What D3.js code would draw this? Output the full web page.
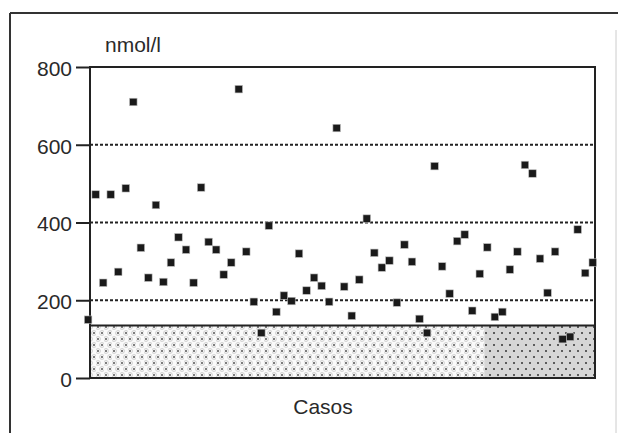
<!DOCTYPE html>
<html>
<head>
<meta charset="utf-8">
<script src="https://cdn.jsdelivr.net/npm/d3@7"></script>
<style>
  body { margin: 0; background: #fff; }
  svg text { font-family: "Liberation Sans", Arial, sans-serif; fill: #2a2a2a; }
</style>
</head>
<body>
<div id="chart"></div>
<script>
// valores por caso (nmol/l)
const valores = [
  150, 472, 245, 472, 273, 488, 710, 335, 258, 445,
  247, 297, 362, 330, 245, 490, 350, 330, 266, 297,
  743, 325, 196, 116, 392, 170, 212, 198, 320, 225,
  258, 237, 196, 643, 235, 160, 253, 410, 322, 284,
  302, 194, 343, 299, 152, 116, 545, 287, 217, 352,
  369, 173, 268, 336, 157, 170, 279, 325, 548, 526,
  307, 219, 325, 100, 106, 382, 270, 297
];
const yTicks = [0, 200, 400, 600, 800];
const lineasGuia = [200, 400, 600];
const limiteInferior = 135;   // zona sombreada
const casoCorte = 53.6;       // cambio de trama
const casoMin = 1.25, casoMax = 68.3;

const width = 618, height = 433;
const margin = { top: 67, left: 90, right: 23, bottom: 55 };

const svg = d3.select("#chart").append("svg")
  .attr("width", width)
  .attr("height", height);

const defs = svg.append("defs");
const p1 = defs.append("pattern").attr("id", "trama1")
  .attr("patternUnits", "userSpaceOnUse").attr("width", 8).attr("height", 12);
p1.append("rect").attr("width", 8).attr("height", 12).attr("fill", "#fafafa");
[[2, 3], [6, 9]].forEach(([cx, cy]) => {
  p1.append("circle").attr("cx", cx).attr("cy", cy).attr("r", 2.4)
    .attr("fill", "none").attr("stroke", "#c8c8c8").attr("stroke-width", 0.9);
  p1.append("circle").attr("cx", cx).attr("cy", cy).attr("r", 1).attr("fill", "#555");
});
const p2 = defs.append("pattern").attr("id", "trama2")
  .attr("patternUnits", "userSpaceOnUse").attr("width", 8).attr("height", 12);
p2.append("rect").attr("width", 8).attr("height", 12).attr("fill", "#d6d6d6");
[[2, 3], [6, 9]].forEach(([cx, cy]) => {
  p2.append("circle").attr("cx", cx).attr("cy", cy).attr("r", 1).attr("fill", "#333");
});

const x = d3.scaleLinear()
  .domain([casoMin, casoMax])
  .range([margin.left, width - margin.right]);
const y = d3.scaleLinear()
  .domain([0, 800])
  .range([height - margin.bottom, margin.top]);

// marco exterior
svg.append("line").attr("x1", 10).attr("x2", width).attr("y1", 13).attr("y2", 13)
  .attr("stroke", "#333").attr("stroke-width", 2);
svg.append("line").attr("x1", 10).attr("x2", 10).attr("y1", 13).attr("y2", height)
  .attr("stroke", "#333").attr("stroke-width", 2);
svg.append("line").attr("x1", 616).attr("x2", 616).attr("y1", 30).attr("y2", height)
  .attr("stroke", "#ccc").attr("stroke-width", 1);

// zona sombreada
svg.append("rect")
  .attr("x", x(casoMin)).attr("y", y(limiteInferior))
  .attr("width", x(casoCorte) - x(casoMin))
  .attr("height", y(0) - y(limiteInferior))
  .attr("fill", "url(#trama1)");
svg.append("rect")
  .attr("x", x(casoCorte)).attr("y", y(limiteInferior))
  .attr("width", x(casoMax) - x(casoCorte))
  .attr("height", y(0) - y(limiteInferior))
  .attr("fill", "url(#trama2)");
svg.append("line")
  .attr("x1", x(casoMin)).attr("x2", x(casoMax))
  .attr("y1", y(limiteInferior)).attr("y2", y(limiteInferior))
  .attr("stroke", "#222").attr("stroke-width", 2);

// lineas guia punteadas
svg.selectAll("line.guia").data(lineasGuia).enter().append("line")
  .attr("class", "guia")
  .attr("x1", x(casoMin)).attr("x2", x(casoMax))
  .attr("y1", d => y(d)).attr("y2", d => y(d))
  .attr("stroke", "#222").attr("stroke-width", 2)
  .attr("stroke-dasharray", "3,2");

// marco del grafico
svg.append("rect")
  .attr("x", x(casoMin)).attr("y", y(800))
  .attr("width", x(casoMax) - x(casoMin))
  .attr("height", y(0) - y(800))
  .attr("fill", "none").attr("stroke", "#222").attr("stroke-width", 2);

// eje y
const ejeY = svg.append("g")
  .attr("transform", `translate(${x(casoMin)},0)`)
  .call(d3.axisLeft(y).tickValues(yTicks).tickSize(14).tickPadding(4));
ejeY.select(".domain").remove();
ejeY.selectAll(".tick line").attr("stroke", "#222").attr("stroke-width", 2);
ejeY.selectAll(".tick text")
  .attr("font-size", 21)
  .attr("dy", "0.4em")
  .style("font-family", '"Liberation Sans", Arial, sans-serif')
  .attr("fill", "#2a2a2a");

// puntos
svg.selectAll("rect.punto").data(valores).enter().append("rect")
  .attr("class", "punto")
  .attr("x", (d, i) => x(i + 1) - 3.75)
  .attr("y", d => y(d) - 3.75)
  .attr("width", 7.5).attr("height", 7.5)
  .attr("fill", "#1a1a1a")
  .attr("stroke", "#bbb").attr("stroke-width", 0.6);

svg.append("text")
  .attr("x", 105).attr("y", 52)
  .attr("font-size", 21)
  .text("nmol/l");

svg.append("text")
  .attr("x", 323).attr("y", 414)
  .attr("text-anchor", "middle")
  .attr("font-size", 21)
  .text("Casos");
</script>
</body>
</html>
